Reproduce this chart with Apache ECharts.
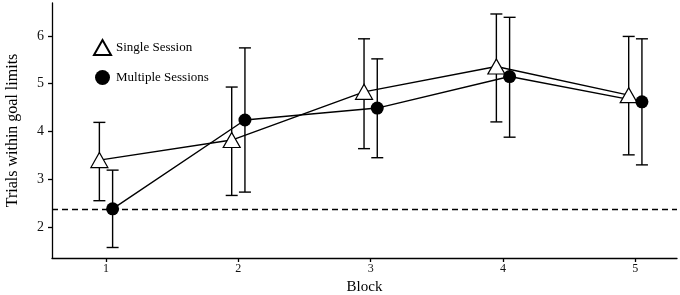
<!DOCTYPE html>
<html>
<head>
<meta charset="utf-8">
<script src="https://cdn.jsdelivr.net/npm/echarts@6/dist/echarts.min.js"></script>
<style>
  html, body { margin: 0; padding: 0; background: #fff; }
  #chart { width: 680px; height: 295px; }
</style>
</head>
<body>
<div id="chart"></div>
<script>
// blocks and dodge
const blocks = [1, 2, 3, 4, 5]
const dodge = 0.05

// Single Session (triangles)
const singleMean = [3.40, 3.82, 4.83, 5.36, 4.76]
const singleLow = [2.55, 2.66, 3.64, 4.20, 3.51]
const singleHigh = [4.19, 4.93, 5.94, 6.46, 5.99]

// Multiple Sessions (circles)
const multiMean = [2.38, 4.24, 4.49, 5.15, 4.62]
const multiLow = [1.57, 2.73, 3.45, 3.88, 3.30]
const multiHigh = [3.19, 5.75, 5.52, 6.39, 5.94]

const refLine = 2.37
const yTicks = [2, 3, 4, 5, 6]

const font = 'Liberation Serif'

let chart = echarts.init(document.getElementById('chart'))

function pts (mean, off) {
  return blocks.map((b, i) => [b + off, mean[i]])
}
function bars (low, high, off) {
  return blocks.map((b, i) => [b + off, low[i], high[i]])
}

function errorBar (params, api) {
  let x = api.value(0)
  let lo = api.coord([x, api.value(1)])
  let hi = api.coord([x, api.value(2)])
  let w = 6
  let style = { stroke: '#000', lineWidth: 1.4, fill: null }
  return {
    type: 'group',
    children: [
      { type: 'line', shape: { x1: lo[0], y1: lo[1], x2: hi[0], y2: hi[1] }, style: style },
      { type: 'line', shape: { x1: lo[0] - w, y1: lo[1], x2: lo[0] + w, y2: lo[1] }, style: style },
      { type: 'line', shape: { x1: hi[0] - w, y1: hi[1], x2: hi[0] + w, y2: hi[1] }, style: style }
    ]
  }
}

let option = {
  animation: false,
  backgroundColor: '#fff',
  textStyle: { fontFamily: font, color: '#000' },
  grid: { left: 52, top: 3, right: 3, bottom: 37, containLabel: false, outerBoundsMode: 'none' },
  legend: {
    orient: 'vertical',
    left: 88,
    top: 34,
    itemWidth: 17,
    itemHeight: 15,
    itemGap: 14,
    textStyle: { fontFamily: font, fontSize: 13, color: '#000' },
    data: ['Single Session', 'Multiple Sessions']
  },
  xAxis: {
    type: 'value',
    min: 0.592,
    max: 5.315,
    name: 'Block',
    nameLocation: 'middle',
    nameGap: 22,
    nameTextStyle: { fontFamily: font, fontSize: 15, color: '#000' },
    splitLine: { show: false },
    axisLine: { lineStyle: { color: '#000', width: 1.3 } },
    axisTick: { show: true, length: 4, customValues: blocks, lineStyle: { color: '#000', width: 1.3 } },
    axisLabel: { customValues: blocks, fontFamily: font, fontSize: 12, color: '#111', margin: 5 }
  },
  yAxis: {
    type: 'value',
    min: 1.35,
    max: 6.69,
    name: 'Trials within goal limits',
    nameLocation: 'middle',
    nameGap: 31,
    nameTextStyle: { fontFamily: font, fontSize: 16, color: '#000' },
    splitLine: { show: false },
    axisLine: { show: true, lineStyle: { color: '#000', width: 1.3 } },
    axisTick: { show: true, length: 4, customValues: yTicks, lineStyle: { color: '#000', width: 1.3 } },
    axisLabel: { customValues: yTicks, fontFamily: font, fontSize: 14, color: '#111', margin: 8 }
  },
  series: [
    {
      type: 'custom',
      renderItem: errorBar,
      data: bars(singleLow, singleHigh, -dodge),
      z: 2
    },
    {
      type: 'custom',
      renderItem: errorBar,
      data: bars(multiLow, multiHigh, dodge),
      z: 2
    },
    {
      type: 'line',
      data: pts(singleMean, -dodge),
      showSymbol: false,
      lineStyle: { color: '#000', width: 1.4 },
      z: 3,
      markLine: {
        silent: true,
        symbol: ['none', 'none'],
        label: { show: false },
        lineStyle: { color: '#000', width: 1.4, type: [6, 4] },
        data: [{ yAxis: refLine }]
      }
    },
    {
      type: 'line',
      data: pts(multiMean, dodge),
      showSymbol: false,
      lineStyle: { color: '#000', width: 1.4 },
      z: 3
    },
    {
      name: 'Single Session',
      type: 'scatter',
      symbol: 'triangle',
      symbolSize: [17, 15],
      data: pts(singleMean, -dodge),
      itemStyle: { color: '#fff', borderColor: '#000', borderWidth: 1.2, opacity: 1 },
      z: 4
    },
    {
      name: 'Multiple Sessions',
      type: 'scatter',
      symbol: 'circle',
      symbolSize: 13,
      data: pts(multiMean, dodge),
      itemStyle: { color: '#000', borderColor: '#000', borderWidth: 0, opacity: 1 },
      z: 4
    }
  ]
}

chart.setOption(option)
</script>
</body>
</html>
